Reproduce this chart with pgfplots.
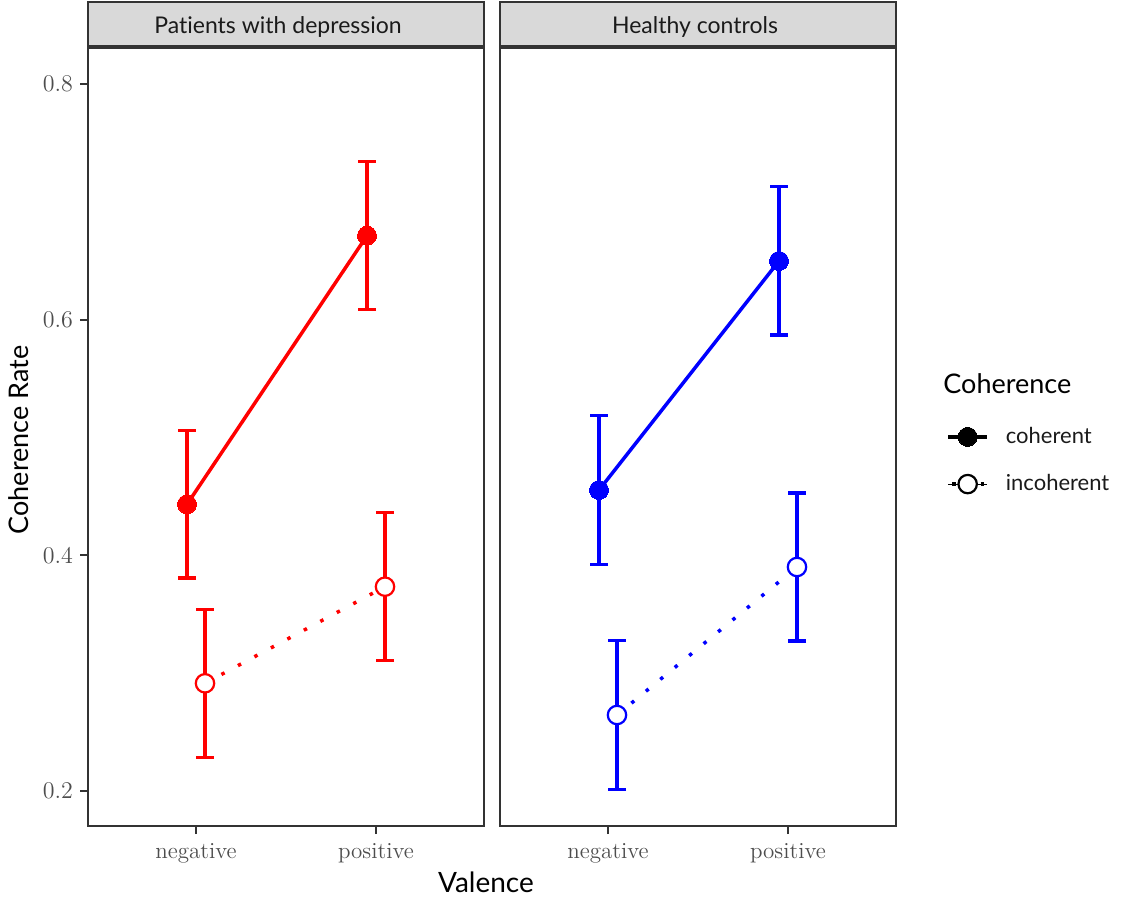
\documentclass[border=0pt]{standalone}
\usepackage{pgfplots}
\pgfplotsset{compat=1.18}
\usepackage{fontspec}
\newfontfamily\sansf[Ligatures=NoCommon]{Lato}
\definecolor{grey20}{HTML}{333333}
\definecolor{grey30}{HTML}{4D4D4D}
\definecolor{grey10}{HTML}{1A1A1A}
\definecolor{grey85}{HTML}{D9D9D9}
\definecolor{cred}{HTML}{FF0000}
\definecolor{cblue}{HTML}{0000FF}

\pgfplotstableread{
x y e
0.95 0.4433 0.0627
1.95 0.6713 0.0628
}\pcoh
\pgfplotstableread{
x y e
1.05 0.2914 0.0628
2.05 0.3734 0.0628
}\pinc
\pgfplotstableread{
x y e
0.95 0.4554 0.0631
1.95 0.6498 0.0630
}\hcoh
\pgfplotstableread{
x y e
1.05 0.2645 0.0631
2.05 0.3901 0.0630
}\hinc

\pgfplotsset{
  dotleg/.style={legend image code/.code={%
    \draw[black, line width=1.75pt, dash pattern=on 1.75pt off 12.5pt] (2pt,0pt) -- (18pt,0pt);
    \draw[mark repeat=2, mark phase=2, ##1] plot coordinates {(0pt,0pt) (9.75pt,0pt) (19.5pt,0pt)};}},
}

\begin{document}
\begin{tikzpicture}
\useasboundingbox (0,0) rectangle (567.5pt,450.5pt);
\pgfplotsset{
  panel/.style={
    at={(#1,37.5pt)}, anchor=south west, scale only axis,
    width=198pt, height=389pt,
    xmin=0.4, xmax=2.6, ymin=0.1703, ymax=0.83055,
    xtick={1,2}, xticklabels={negative,positive},
    axis line style={grey20, line width=1pt},
    tick style={grey20, line width=1.1pt},
    major tick length=4pt, tick align=outside,
    xtick pos=left, ytick pos=left,
    tick label style={font=\fontsize{11.5}{12}\selectfont, text=grey30},
    xticklabel style={yshift=-1pt},
    yticklabel style={/pgf/number format/.cd, fixed, precision=1, fixed zerofill},
    clip=false,
  },
  ebar/.style={only marks, mark=none, forget plot,
    error bars/.cd, y dir=both, y explicit,
    error bar style={line width=1.75pt, #1},
    error mark options={rotate=90, line width=1.75pt, mark size=4.5pt, #1}},
  cohline/.style={#1, line width=1.75pt, mark=*, mark size=4.75pt, forget plot,
    mark options={solid, fill=#1, draw=#1, line width=0pt}},
  incline/.style={#1, line width=1.75pt, dash pattern=on 1.75pt off 7.6pt, mark=*, mark size=4.6pt, forget plot,
    mark options={solid, fill=white, draw=#1, line width=1.1pt}},
}

\begin{axis}[panel=44pt, ytick={0.2,0.4,0.6,0.8}]
\addplot[ebar=cred] table[x=x, y=y, y error=e] {\pcoh};
\addplot[ebar=cred] table[x=x, y=y, y error=e] {\pinc};
\addplot[cohline=cred] table[x=x, y=y] {\pcoh};
\addplot[incline=cred] table[x=x, y=y] {\pinc};
\end{axis}

\begin{axis}[panel=250pt, ytick=\empty,
  legend style={at={(1.1263,0.513)}, anchor=north west, draw=none, fill=none,
    inner sep=0pt, row sep=14pt,
    font=\sansf\fontsize{11}{13}\selectfont, text=grey10,
    nodes={inner sep=0pt, anchor=west},
    /tikz/every odd column/.append style={column sep=8.5pt}},
  legend cell align=left,
  legend image code/.code={\draw[mark repeat=2, mark phase=2, #1] plot coordinates {(0pt,0pt) (9.75pt,0pt) (19.5pt,0pt)};},
]
\addlegendimage{black, line width=1.75pt, mark=*, mark size=4.75pt, mark options={solid, fill=black, line width=0pt}}
\addlegendentry{coherent}
\addlegendimage{dotleg, black, draw=none, mark=*, mark size=4.6pt, mark options={solid, fill=white, draw=black, line width=1.1pt}}
\addlegendentry{incoherent}
\addplot[ebar=cblue] table[x=x, y=y, y error=e] {\hcoh};
\addplot[ebar=cblue] table[x=x, y=y, y error=e] {\hinc};
\addplot[cohline=cblue] table[x=x, y=y] {\hcoh};
\addplot[incline=cblue] table[x=x, y=y] {\hinc};
\end{axis}

% strips
\draw[grey20, line width=1pt, fill=grey85] (44pt,427.5pt) rectangle (242pt,449.5pt);
\draw[grey20, line width=1pt, fill=grey85] (250pt,427.5pt) rectangle (448pt,449.5pt);
\node[font=\sansf\fontsize{11.5}{12}\selectfont, text=grey10] at (139pt,437pt) {Patients with depression};
\node[font=\sansf\fontsize{11.5}{12}\selectfont, text=grey10] at (347.5pt,437pt) {Healthy controls};

% axis titles
\node[font=\sansf\fontsize{14}{15}\selectfont, anchor=base] at (243pt,4.5pt) {Valence};
\node[font=\sansf\fontsize{13.5}{15}\selectfont, rotate=90, anchor=base] at (14pt,230.5pt) {Coherence Rate};
\node[font=\sansf\fontsize{13.5}{15}\selectfont, anchor=west, inner sep=0pt] at (471.5pt,258.5pt) {Coherence};
\end{tikzpicture}
\end{document}
